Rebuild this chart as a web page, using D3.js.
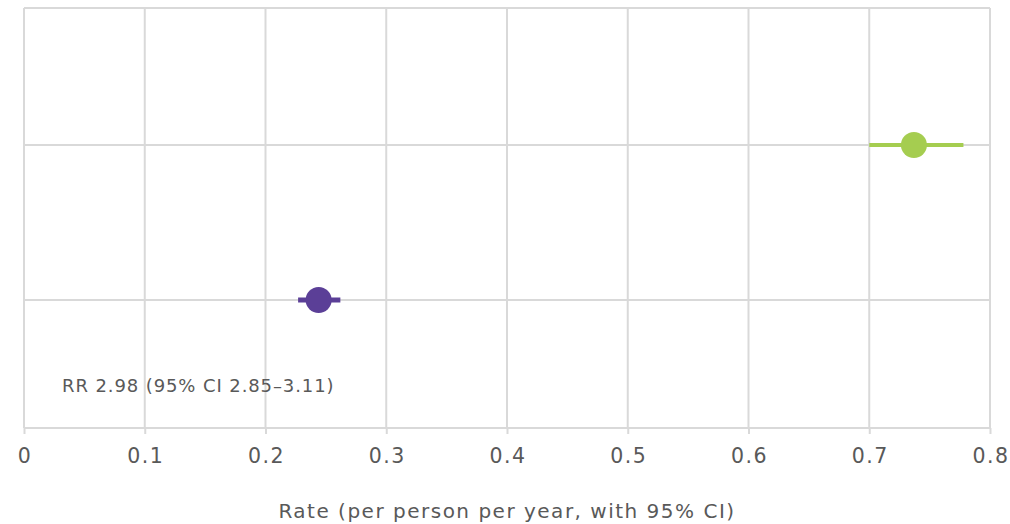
<!DOCTYPE html>
<html>
<head>
<meta charset="utf-8">
<script src="https://cdn.jsdelivr.net/npm/d3@7/dist/d3.min.js"></script>
<style>
  html, body { margin: 0; padding: 0; background: #fff; }
  svg { display: block; font-family: "DejaVu Sans", Verdana, sans-serif; }
</style>
</head>
<body>
<svg id="chart" width="1010" height="524"></svg>
<script>
// Rates with 95% confidence intervals, one row per group
const groups = ["Group B", "Group A"];
const rates = [0.244, 0.737];
const ciLow = [0.227, 0.700];
const ciHigh = [0.262, 0.778];
const colors = ["#5b3f97", "#a5cd50"];
const xTicks = [0, 0.1, 0.2, 0.3, 0.4, 0.5, 0.6, 0.7, 0.8];
const annotation = "RR 2.98 (95% CI 2.85–3.11)";
const xTitle = "Rate (per person per year, with 95% CI)";

const svg = d3.select("#chart");
const plotLeft = 24, plotRight = 990, plotTop = 8, plotBottom = 428;
const gridColor = "#d9d9d9";
const textColor = "#595959";

const x = d3.scaleLinear().domain([0, 0.8]).range([plotLeft, plotRight]);
// row index -> vertical position
const y = d3.scaleLinear().domain([-0.826, 1.884]).range([plotBottom, plotTop]);
const rowIdx = groups.map((g, i) => i);

// vertical gridlines
svg.append("g").selectAll("line").data(xTicks).join("line")
  .attr("x1", d => x(d)).attr("x2", d => x(d))
  .attr("y1", plotTop).attr("y2", plotBottom)
  .attr("stroke", gridColor).attr("stroke-width", 2);

// horizontal gridlines: top border and one per row
svg.append("g").selectAll("line").data([y.domain()[1], ...rowIdx]).join("line")
  .attr("x1", plotLeft).attr("x2", plotRight)
  .attr("y1", d => Math.round(y(d))).attr("y2", d => Math.round(y(d)))
  .attr("stroke", gridColor).attr("stroke-width", 2);

// bottom axis
const axis = svg.append("g")
  .attr("transform", `translate(0,${plotBottom})`)
  .call(d3.axisBottom(x).tickValues(xTicks).tickSize(6).tickPadding(14)
    .tickFormat(d => d === 0 ? "0" : d3.format(".1f")(d)));
axis.select(".domain").attr("stroke", gridColor).attr("stroke-width", 2)
  .attr("d", `M${plotLeft},0H${plotRight}`);
axis.selectAll(".tick line").attr("stroke", gridColor).attr("stroke-width", 2);
axis.selectAll(".tick text")
  .attr("fill", textColor)
  .attr("dx", "0.5px")
  .style("font-size", "20.5px")
  .style("letter-spacing", "1.5px")
  .style("font-family", "'DejaVu Sans', Verdana, sans-serif");

// confidence interval bars
svg.append("g").selectAll("line").data(rowIdx).join("line")
  .attr("x1", i => x(ciLow[i])).attr("x2", i => x(ciHigh[i]))
  .attr("y1", i => y(i)).attr("y2", i => y(i))
  .attr("stroke", i => colors[i])
  .attr("stroke-width", i => i === 0 ? 5 : 4);

// point estimates
svg.append("g").selectAll("circle").data(rowIdx).join("circle")
  .attr("cx", i => x(rates[i])).attr("cy", i => y(i))
  .attr("r", 13)
  .attr("fill", i => colors[i]);

// rate ratio annotation
svg.append("text")
  .attr("x", 62).attr("y", 392)
  .attr("fill", textColor)
  .style("font-size", "18px")
  .style("letter-spacing", "0.9px")
  .text(annotation);

// axis title
svg.append("text")
  .attr("x", (plotLeft + plotRight) / 2).attr("y", 518)
  .attr("text-anchor", "middle")
  .attr("fill", textColor)
  .style("font-size", "20px")
  .style("letter-spacing", "1.5px")
  .text(xTitle);
</script>
</body>
</html>
